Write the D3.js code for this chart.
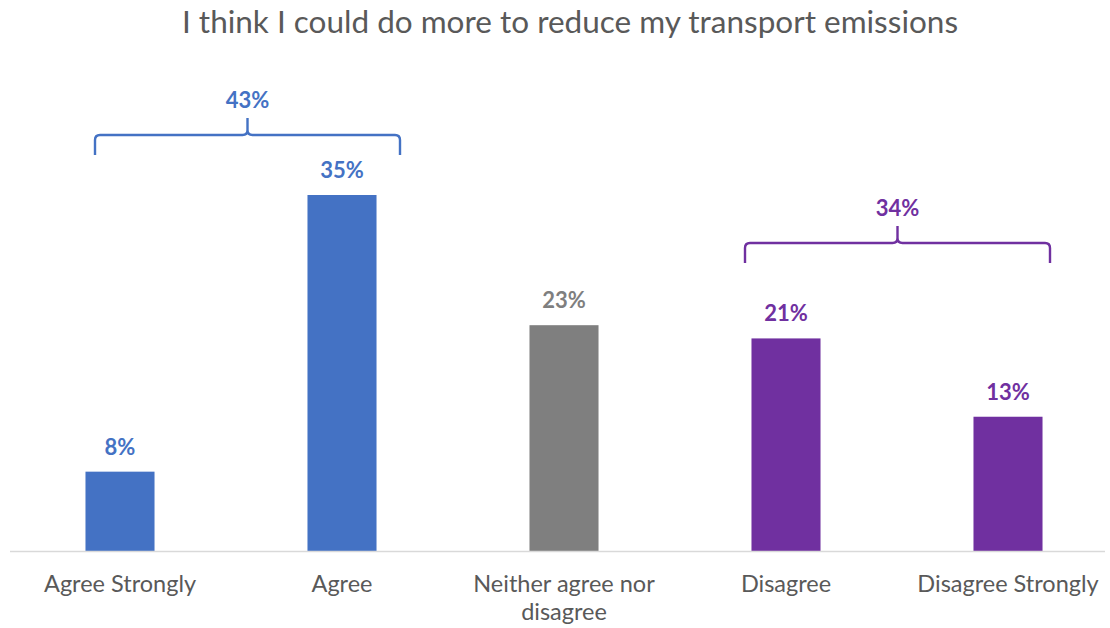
<!DOCTYPE html>
<html>
<head>
<meta charset="utf-8">
<script src="https://cdn.jsdelivr.net/npm/d3@7"></script>
<style>
  body { margin: 0; background: #fff; }
  svg { display: block; font-family: Lato, "Open Sans", sans-serif; }
</style>
</head>
<body>
<div id="chart"></div>
<script>
// data
const categories = ["Agree Strongly", "Agree", "Neither agree nor disagree", "Disagree", "Disagree Strongly"];
const values = [7.8, 35.0, 22.2, 20.9, 13.2];
const valueLabels = ["8%", "35%", "23%", "21%", "13%"];
const groups = ["agree", "agree", "neutral", "disagree", "disagree"];
const groupTotals = [
  { group: "agree", label: "43%", from: 0, to: 1 },
  { group: "disagree", label: "34%", from: 3, to: 4 }
];

const W = 1110, H = 628;
const colors = { agree: "#4472C4", neutral: "#7F7F7F", disagree: "#7030A0" };

const svg = d3.select("#chart").append("svg")
  .attr("width", W).attr("height", H);

const x = d3.scaleBand()
  .domain(categories)
  .range([9, 1119])
  .paddingInner(0.689)
  .paddingOuter(0.3445);

const y = d3.scaleLinear()
  .domain([0, 35])
  .range([551, 195]);

// title
svg.append("text")
  .attr("x", 570).attr("y", 33)
  .attr("text-anchor", "middle")
  .style("font-size", "31.5px")
  .style("fill", "#595959")
  .text("I think I could do more to reduce my transport emissions");

// bars
svg.selectAll(".bar")
  .data(values)
  .enter().append("rect")
  .attr("class", "bar")
  .attr("x", (d, i) => x(categories[i]))
  .attr("y", d => y(d))
  .attr("width", x.bandwidth())
  .attr("height", d => y(0) - y(d))
  .attr("fill", (d, i) => colors[groups[i]]);

// value labels
svg.selectAll(".bar-label")
  .data(values)
  .enter().append("text")
  .attr("class", "bar-label")
  .attr("x", (d, i) => x(categories[i]) + x.bandwidth() / 2)
  .attr("y", d => y(d) - 17)
  .attr("text-anchor", "middle")
  .style("font-size", "22px")
  .style("font-weight", "bold")
  .style("fill", (d, i) => colors[groups[i]])
  .text((d, i) => valueLabels[i]);

// x axis
const xAxis = d3.axisBottom(x).tickSize(0).tickPadding(0);
const gx = svg.append("g")
  .attr("transform", `translate(0,${y(0)})`)
  .call(xAxis);
gx.select(".domain")
  .attr("d", "M10,0.5H1105")
  .attr("stroke", "#D9D9D9")
  .attr("stroke-width", 1.5);
gx.selectAll(".tick text")
  .attr("y", 41)
  .attr("dy", null)
  .style("font-size", "23.5px")
  .style("font-family", "Lato, 'Open Sans', sans-serif")
  .style("fill", "#595959")
  .each(function(d) {
    const t = d3.select(this);
    if (d === "Neither agree nor disagree") {
      t.text(null);
      t.append("tspan").attr("x", 0).text("Neither agree nor");
      t.append("tspan").attr("x", 0).attr("dy", 28).text("disagree");
    }
  });

// group braces
const braceOffsets = { agree: [-25, 58], disagree: [-41, 42] };
const braceY = { agree: 135, disagree: 243 };
groupTotals.forEach(g => {
  const c0 = x(categories[g.from]) + x.bandwidth() / 2;
  const c1 = x(categories[g.to]) + x.bandwidth() / 2;
  const x0 = c0 + braceOffsets[g.group][0];
  const x1 = c1 + braceOffsets[g.group][1];
  const xm = (x0 + x1) / 2;
  const yb = braceY[g.group];
  const r = 5;
  const path = `M${x0},${yb + 20} V${yb + r} Q${x0},${yb} ${x0 + r},${yb} H${xm - r} Q${xm},${yb} ${xm},${yb - r} V${yb - 17} ` +
    `M${xm},${yb - r} Q${xm},${yb} ${xm + r},${yb} H${x1 - r} Q${x1},${yb} ${x1},${yb + r} V${yb + 20}`;
  svg.append("path")
    .attr("d", path)
    .attr("fill", "none")
    .attr("stroke", colors[g.group])
    .attr("stroke-width", 2.4);
  svg.append("text")
    .attr("x", xm).attr("y", yb - 27)
    .attr("text-anchor", "middle")
    .style("font-size", "22px")
    .style("font-weight", "bold")
    .style("fill", colors[g.group])
    .text(g.label);
});
</script>
</body>
</html>
